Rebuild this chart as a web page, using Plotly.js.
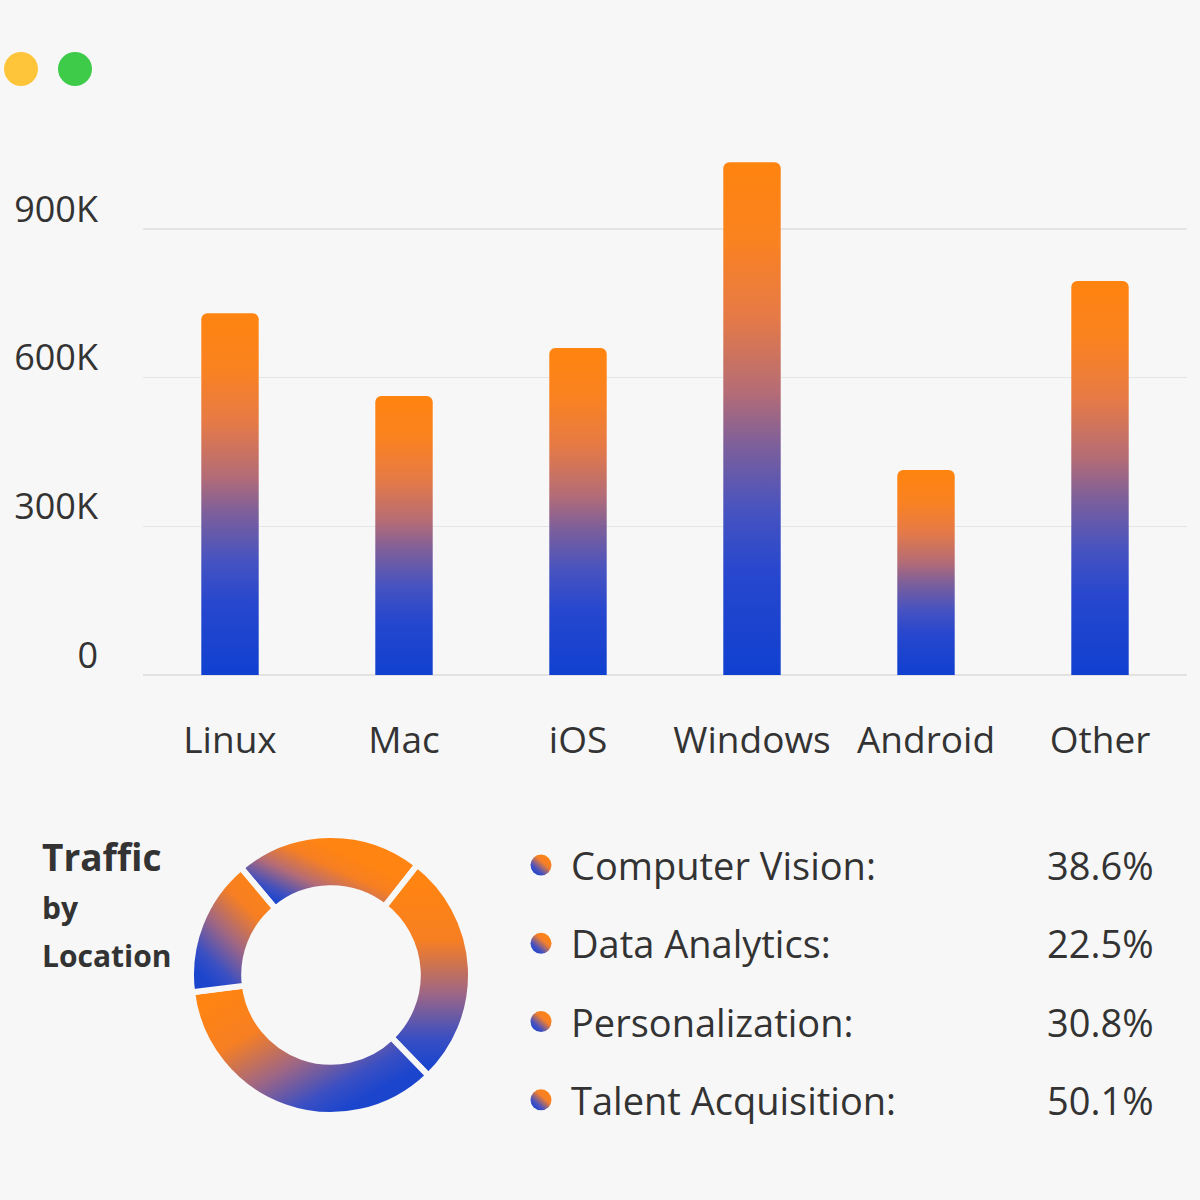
<!DOCTYPE html>
<html>
<head>
<meta charset="utf-8">
<script src="https://cdn.plot.ly/plotly-3.0.1.min.js"></script>
<style>
  html, body { margin: 0; padding: 0; background: #F7F7F7; }
  #chart { width: 1200px; height: 1200px; }
</style>
</head>
<body>
<div id="chart"></div>
<script>
// ---------- data ----------
const platforms = ['Linux', 'Mac', 'iOS', 'Windows', 'Android', 'Other'];
const visitors = [730000, 563000, 660000, 1035000, 414000, 795000];
const yTickValues = [0, 300000, 600000, 900000];
const yTickLabels = ['0', '300K', '600K', '900K'];

const donutTitle = ['Traffic', 'by', 'Location'];
const segments = ['Computer Vision', 'Data Analytics', 'Personalization', 'Talent Acquisition'];
const segmentShares = [38.6, 22.5, 30.8, 50.1];
// clockwise order of the ring, starting at the upper-left gap
const donutOrder = ['Personalization', 'Computer Vision', 'Talent Acquisition', 'Data Analytics'];

// ---------- styling ----------
const BG = '#F7F7F7';
const TEXT = '#333333';
const FONT = '"Open Sans", Lato, sans-serif';
const ORANGE = '#FF8412';

const donutValues = donutOrder.map(l => segmentShares[segments.indexOf(l)]);
const rows = segments.map((_, i) => i);

const traces = [
  {
    type: 'bar', x: platforms, y: visitors, width: 0.33,
    marker: { color: ORANGE, cornerradius: 6, line: { width: 0 } },
    xaxis: 'x', yaxis: 'y', hoverinfo: 'skip', showlegend: false
  },
  {
    type: 'pie', labels: donutOrder, values: donutValues,
    sort: false, direction: 'clockwise', rotation: -40, hole: 0.62,
    textinfo: 'none', showlegend: false, hoverinfo: 'skip',
    marker: { colors: [ORANGE, ORANGE, ORANGE, ORANGE], line: { color: BG, width: 6 } },
    domain: { x: [191 / 1200, 471 / 1200], y: [85 / 1200, 365 / 1200] }
  },
  {
    type: 'scatter', mode: 'markers', x: rows.map(() => 21), y: rows,
    xaxis: 'x2', yaxis: 'y2', hoverinfo: 'skip', showlegend: false,
    marker: { size: 21, color: ORANGE, line: { width: 0 } }
  }
];

const annotations = [];
const titleY = [857, 907, 955];
const titleSize = [37, 30, 30];
donutTitle.forEach((t, i) => {
  annotations.push({
    xref: 'paper', yref: 'paper', x: 40 / 1200, y: (1200 - titleY[i]) / 1200,
    xanchor: 'left', yanchor: 'middle', showarrow: false, text: t,
    font: { family: FONT, size: titleSize[i], color: TEXT, weight: 700 }
  });
});
segments.forEach((s, i) => {
  annotations.push({
    xref: 'x2', yref: 'y2', x: 49, y: i, xanchor: 'left', yanchor: 'middle',
    showarrow: false, text: s + ':', font: { family: FONT, size: 38, color: TEXT }
  });
  annotations.push({
    xref: 'x2', yref: 'y2', x: 636, y: i, xanchor: 'right', yanchor: 'middle',
    showarrow: false, text: segmentShares[i].toFixed(1) + '%', font: { family: FONT, size: 38, color: TEXT }
  });
});

const layout = {
  width: 1200, height: 1200,
  margin: { l: 0, r: 0, t: 0, b: 0 },
  paper_bgcolor: BG, plot_bgcolor: BG,
  font: { family: FONT, color: TEXT },
  showlegend: false,
  xaxis: {
    domain: [143 / 1200, 1187 / 1200], anchor: 'y',
    tickfont: { size: 37, color: TEXT }, ticks: '', ticklabelstandoff: 40,
    showgrid: false, showline: false, zeroline: false, fixedrange: true
  },
  yaxis: {
    domain: [525 / 1200, 1070 / 1200], anchor: 'x', range: [0, 1100000],
    tickvals: yTickValues, ticktext: yTickLabels,
    tickfont: { size: 36, color: TEXT }, ticks: '', ticklabelstandoff: 44, ticklabelshift: -20,
    showgrid: true, gridcolor: '#E5E5E5', gridwidth: 1.5,
    zeroline: true, zerolinecolor: '#E2E2E2', zerolinewidth: 2,
    showline: false, fixedrange: true
  },
  xaxis2: { domain: [520 / 1200, 1160 / 1200], range: [0, 640], anchor: 'y2', visible: false, fixedrange: true },
  yaxis2: { domain: [61 / 1200, 374 / 1200], range: [3.5, -0.5], anchor: 'x2', visible: false, fixedrange: true },
  shapes: [
    { type: 'circle', xref: 'paper', yref: 'paper', x0: 4 / 1200, x1: 38 / 1200, y0: 1114 / 1200, y1: 1148 / 1200,
      fillcolor: '#FEC53B', line: { width: 0 } },
    { type: 'circle', xref: 'paper', yref: 'paper', x0: 58 / 1200, x1: 92 / 1200, y0: 1114 / 1200, y1: 1148 / 1200,
      fillcolor: '#3FCB4A', line: { width: 0 } }
  ],
  annotations: annotations
};

function addGradient(defs, id, coords, stops) {
  const ns = 'http://www.w3.org/2000/svg';
  const g = document.createElementNS(ns, 'linearGradient');
  g.setAttribute('id', id);
  g.setAttribute('x1', coords[0]); g.setAttribute('y1', coords[1]);
  g.setAttribute('x2', coords[2]); g.setAttribute('y2', coords[3]);
  stops.forEach(s => {
    const st = document.createElementNS(ns, 'stop');
    st.setAttribute('offset', s[0]);
    st.setAttribute('stop-color', s[1]);
    g.appendChild(st);
  });
  defs.appendChild(g);
}

Plotly.newPlot('chart', traces, layout, { staticPlot: true, displayModeBar: false }).then(gd => {
  const svg = gd.querySelector('.main-svg');
  let defs = svg.querySelector('defs');
  if (!defs) { defs = document.createElementNS('http://www.w3.org/2000/svg', 'defs'); svg.insertBefore(defs, svg.firstChild); }

  addGradient(defs, 'barGrad', [0, 0, 0, 1], [
    [0, '#FF840F'], [0.15, '#FA8220'], [0.3, '#E67A46'], [0.45, '#B46C76'],
    [0.55, '#7E5F9A'], [0.68, '#4753C0'], [0.8, '#2747CE'], [1, '#1040D0']
  ]);
  const sliceGrads = [
    ['gPers', [0.05, 0.75, 0.6, 0.25]],
    ['gCV', [0.3, 0.1, 0.3, 0.95]],
    ['gTal', [0.05, 0.15, 0.75, 0.85]],
    ['gDA', [0.85, 0.05, 0.25, 0.95]]
  ];
  const ringStops = [[0, '#1B45CD'], [0.15, '#3F4FC0'], [0.45, '#B56C75'], [0.75, '#F77F22'], [1, '#FF8412']];
  const ringStopsRev = [[0, '#FF8412'], [0.3, '#F77F22'], [0.6, '#9E6685'], [0.85, '#3A4FC3'], [1, '#1B45CD']];
  addGradient(defs, 'gPers', sliceGrads[0][1], ringStops);
  addGradient(defs, 'gCV', sliceGrads[1][1], ringStopsRev);
  addGradient(defs, 'gTal', sliceGrads[2][1], ringStopsRev);
  addGradient(defs, 'gDA', sliceGrads[3][1], ringStopsRev);
  addGradient(defs, 'dotGrad', [0.85, 0.1, 0.15, 0.9], [[0, '#FF8412'], [0.35, '#F57F2A'], [0.75, '#4A52BE'], [1, '#1B45CD']]);

  gd.querySelectorAll('.barlayer .point path').forEach(p => { p.style.fill = 'url(#barGrad)'; });
  gd.querySelectorAll('.pielayer .slice path.surface').forEach((p, i) => {
    p.style.fill = 'url(#' + sliceGrads[i][0] + ')';
  });
  gd.querySelectorAll('.scatterlayer .point').forEach(p => { p.style.fill = 'url(#dotGrad)'; });
});
</script>
</body>
</html>
